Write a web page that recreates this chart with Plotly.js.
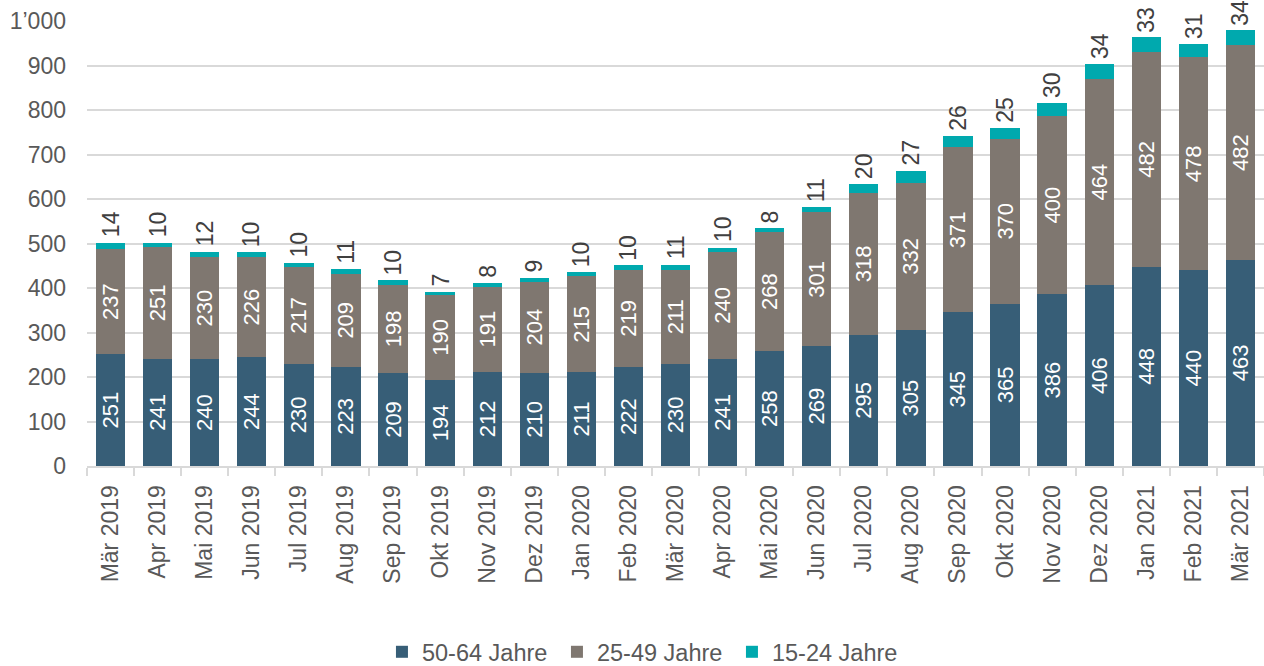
<!DOCTYPE html>
<html>
<head>
<meta charset="utf-8">
<script src="https://cdn.plot.ly/plotly-3.0.1.min.js"></script>
<style>html,body{margin:0;padding:0;background:#fff;}#chart{width:1264px;height:666px;}</style>
</head>
<body>
<div id="chart"></div>
<script>
var categories = ["Mär 2019","Apr 2019","Mai 2019","Jun 2019","Jul 2019","Aug 2019","Sep 2019","Okt 2019","Nov 2019","Dez 2019","Jan 2020","Feb 2020","Mär 2020","Apr 2020","Mai 2020","Jun 2020","Jul 2020","Aug 2020","Sep 2020","Okt 2020","Nov 2020","Dez 2020","Jan 2021","Feb 2021","Mär 2021"];
var age50_64 = [251,241,240,244,230,223,209,194,212,210,211,222,230,241,258,269,295,305,345,365,386,406,448,440,463];
var age25_49 = [237,251,230,226,217,209,198,190,191,204,215,219,211,240,268,301,318,332,371,370,400,464,482,478,482];
var age15_24 = [14,10,12,10,10,11,10,7,8,9,10,10,11,10,8,11,20,27,26,25,30,34,33,31,34];
var seriesNames = ["50-64 Jahre","25-49 Jahre","15-24 Jahre"];
var colors = ["#375E77","#7F7770","#00A9AE"];

var font = "Liberation Sans, Arial, sans-serif";

function insideTrace(vals, name, color) {
  return {
    type: "bar", x: categories, y: vals, name: name,
    marker: {color: color},
    text: vals.map(String), textposition: "inside", textangle: -90,
    insidetextanchor: "middle", constraintext: "none",
    insidetextfont: {family: font, size: 22, color: "#FFFFFF"},
    hoverinfo: "x+y+name"
  };
}
var traces = [
  insideTrace(age50_64, seriesNames[0], colors[0]),
  insideTrace(age25_49, seriesNames[1], colors[1]),
  {type: "bar", x: categories, y: age15_24, name: seriesNames[2], marker: {color: colors[2]}, textposition: "none"}
];

var annotations = categories.map(function(c, i) {
  return {
    x: c, y: age50_64[i] + age25_49[i] + age15_24[i], xref: "x", yref: "y",
    text: String(age15_24[i]), showarrow: false, textangle: -90,
    yanchor: "bottom", xanchor: "center", yshift: 3,
    font: {family: font, size: 23, color: "#404040"}
  };
});

var layout = {
  width: 1264, height: 666,
  margin: {l: 87, r: 0, t: 21, b: 200, pad: 0, autoexpand: false},
  paper_bgcolor: "#FFFFFF", plot_bgcolor: "#FFFFFF",
  barmode: "stack", bargap: 0.377,
  separators: ".’",
  font: {family: font, size: 23, color: "#595959"},
  xaxis: {
    type: "category", tickangle: -90, tickson: "boundaries", automargin: false,
    ticks: "outside", ticklen: 8, tickwidth: 2, tickcolor: "#D9D9D9",
    showline: true, linecolor: "#D9D9D9", linewidth: 2,
    showgrid: false, tickfont: {family: font, size: 23, color: "#595959"},
    ticklabelstandoff: 8
  },
  yaxis: {
    range: [0, 1000], dtick: 100, tick0: 0, tickformat: ",d", automargin: false,
    showgrid: true, gridcolor: "#D9D9D9", gridwidth: 2,
    zeroline: false, showline: false, ticks: "",
    ticklabelstandoff: 20,
    tickfont: {family: font, size: 23, color: "#595959"}
  },
  legend: {
    orientation: "h", x: 0.2506, xanchor: "left", xref: "paper",
    y: -0.418, yanchor: "middle", yref: "paper",
    font: {family: font, size: 23.5, color: "#595959"},
    entrywidth: 130, entrywidthmode: "pixels", traceorder: "normal"
  },
  annotations: annotations,
  showlegend: true
};

Plotly.newPlot("chart", traces, layout, {displayModeBar: false, staticPlot: true});
</script>
</body>
</html>
